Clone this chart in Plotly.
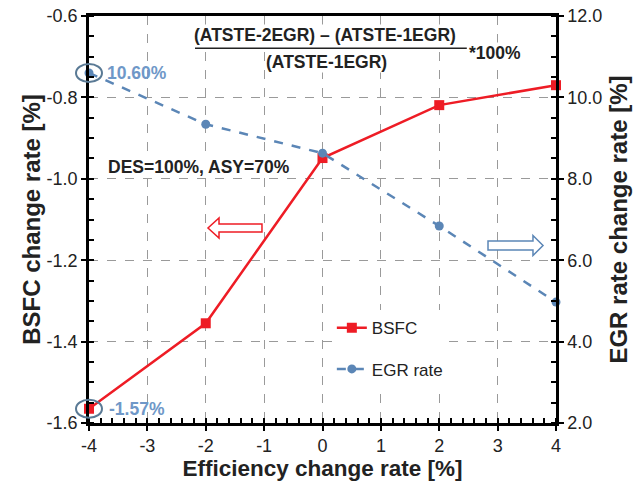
import plotly.graph_objects as go

# ---- data ----
efficiency = [-4, -2, 0, 2, 4]
bsfc_change = [-1.565, -1.355, -0.949, -0.819, -0.770]
egr_change = [10.60, 9.34, 8.63, 6.84, 4.97]

x_ticks = [-4, -3, -2, -1, 0, 1, 2, 3, 4]
x_ticktext = ["-4", "-3", "-2", "-1", "0", "1", "2", "3", "4"]
y_ticks = [-1.6, -1.4, -1.2, -1.0, -0.8, -0.6]
y_ticktext = ["-1.6", "-1.4", "-1.2", "-1.0", "-0.8", "-0.6"]
y2_ticks = [2, 4, 6, 8, 10, 12]
y2_ticktext = ["2.0", "4.0", "6.0", "8.0", "10.0", "12.0"]

XR = [-4, 4]
YR = [-1.6, -0.6]
Y2R = [2, 12]

RED = "#ee1c25"
BLUE = "#5b86b6"
LBLUE = "#6f98c8"
FONT = "Liberation Sans, Arial, sans-serif"
TXT = "#222222"

fig = go.Figure()
fig.add_trace(go.Scatter(
    x=efficiency, y=bsfc_change, name="BSFC", mode="lines+markers",
    line=dict(color=RED, width=2.5),
    marker=dict(symbol="square", size=10, color=RED),
    cliponaxis=False, legendgroup="a"))
fig.add_trace(go.Scatter(
    x=efficiency, y=egr_change, name="EGR rate", mode="lines+markers",
    line=dict(color=BLUE, width=2.5, dash="dash"),
    marker=dict(symbol="circle", size=9, color=BLUE),
    yaxis="y2", cliponaxis=False, legendgroup="b"))

axis_common = dict(
    showline=True, linecolor="black", linewidth=2.5,
    ticks="outside", ticklen=5, tickwidth=1.5, tickcolor="black",
    tickfont=dict(family=FONT, size=18, color=TXT),
    zeroline=False, automargin=False,
)

fig.update_layout(
    width=638, height=486,
    margin=dict(l=89, r=82, t=16, b=63),
    paper_bgcolor="white", plot_bgcolor="white",
    font=dict(family=FONT, color=TXT),
    xaxis=dict(
        range=XR, tickvals=x_ticks, ticktext=x_ticktext, mirror=True,
        showgrid=True, gridcolor="#9a9a9a", gridwidth=1, griddash="dash",
        minor=dict(dtick=0.2, ticks="inside", ticklen=5, tickcolor="black", tickwidth=1.5, showgrid=False),
        title=dict(text="<b>Efficiency change rate [%]</b>", font=dict(family=FONT, size=22.5, color=TXT), standoff=2),
        **axis_common),
    yaxis=dict(
        range=YR, tickvals=y_ticks, ticktext=y_ticktext,
        showgrid=True, gridcolor="#9a9a9a", gridwidth=1, griddash="dash",
        minor=dict(dtick=0.05, ticks="inside", ticklen=5, tickcolor="black", tickwidth=1.5, showgrid=False),
        title=dict(text="<b>BSFC change rate [%]</b>", font=dict(family=FONT, size=24, color=TXT), standoff=0),
        **axis_common),
    yaxis2=dict(
        range=Y2R, tickvals=y2_ticks, ticktext=y2_ticktext, overlaying="y", side="right",
        showgrid=False,
        minor=dict(dtick=0.5, ticks="inside", ticklen=5, tickcolor="black", tickwidth=1.5, showgrid=False),
        title=dict(text="<b>EGR rate change rate [%]</b>", font=dict(family=FONT, size=24, color=TXT), standoff=9),
        **axis_common),
    legend=dict(x=0.52, y=0.277, xanchor="left", yanchor="top",
                bgcolor="white", font=dict(family=FONT, size=17, color=TXT),
                tracegroupgap=16, itemwidth=30),
    showlegend=True,
)


def px(v):
    return (v - XR[0]) / (XR[1] - XR[0])


def py(v):
    return (v - YR[0]) / (YR[1] - YR[0])


def py2(v):
    return (v - Y2R[0]) / (Y2R[1] - Y2R[0])


LINE_Y = 0.921
# fraction annotation
fig.add_annotation(xref="paper", yref="paper", x=0.505, y=LINE_Y + 2 / 407, xanchor="center", yanchor="bottom",
                   text="<b>(ATSTE-2EGR) – (ATSTE-1EGR)</b>",
                   showarrow=False, font=dict(family=FONT, size=17.5, color=TXT), bgcolor="white", borderpad=0)
fig.add_annotation(xref="paper", yref="paper", x=0.509, y=LINE_Y - 3 / 407, xanchor="center", yanchor="top",
                   text="<b>(ATSTE-1EGR)</b>",
                   showarrow=False, font=dict(family=FONT, size=17.5, color=TXT), bgcolor="white", borderpad=0)
fig.add_annotation(xref="paper", yref="paper", x=0.869, y=0.908, xanchor="center", yanchor="middle",
                   text="<b>*100%</b>",
                   showarrow=False, font=dict(family=FONT, size=17.5, color=TXT), bgcolor="white", borderpad=0)
fig.add_shape(type="line", xref="paper", yref="paper", x0=0.227, x1=0.809, y0=LINE_Y, y1=LINE_Y,
              line=dict(color=TXT, width=1.5))
fig.add_annotation(xref="paper", yref="paper", x=0.236, y=0.628, xanchor="center", yanchor="middle",
                   text="<b>DES=100%, ASY=70%</b>",
                   showarrow=False, font=dict(family=FONT, size=17.5, color=TXT), bgcolor="white", borderpad=0)

# value labels + ellipses at x=-4
fig.add_annotation(xref="paper", yref="paper", x=0.034, y=py2(egr_change[0]), xanchor="left", yanchor="middle",
                   text="<b>10.60%</b>", showarrow=False, font=dict(family=FONT, size=17.5, color=LBLUE))
fig.add_annotation(xref="paper", yref="paper", x=0.038, y=py(bsfc_change[0]), xanchor="left", yanchor="middle",
                   text="<b>-1.57%</b>", showarrow=False, font=dict(family=FONT, size=17.5, color=LBLUE))
ex, ey = 13 / 467, 9 / 407
for yy in (py2(egr_change[0]), py(bsfc_change[0])):
    fig.add_shape(type="circle", xref="paper", yref="paper",
                  x0=px(-4) - ex, x1=px(-4) + ex, y0=yy - ey, y1=yy + ey,
                  line=dict(color="#5a7a95", width=2))


# hollow arrows
def arrow_path(tail, base, tip, yc, hh, bh):
    return (f"M {tail},{yc - bh} L {base},{yc - bh} L {base},{yc - hh} L {tip},{yc} "
            f"L {base},{yc + hh} L {base},{yc + bh} L {tail},{yc + bh} Z")


fig.add_shape(type="path", xref="paper", yref="paper",
              path=arrow_path(0.3704, 0.2784, 0.2548, 0.4791, 0.0246, 0.0098),
              line=dict(color=RED, width=1.5), fillcolor="white")
fig.add_shape(type="path", xref="paper", yref="paper",
              path=arrow_path(0.8544, 0.9507, 0.9722, 0.4361, 0.0246, 0.011),
              line=dict(color=BLUE, width=1.5), fillcolor="white")

fig.write_html("out.html", config={"displayModeBar": False},
               post_script="document.body.style.margin='0';document.body.style.overflow='hidden';")
